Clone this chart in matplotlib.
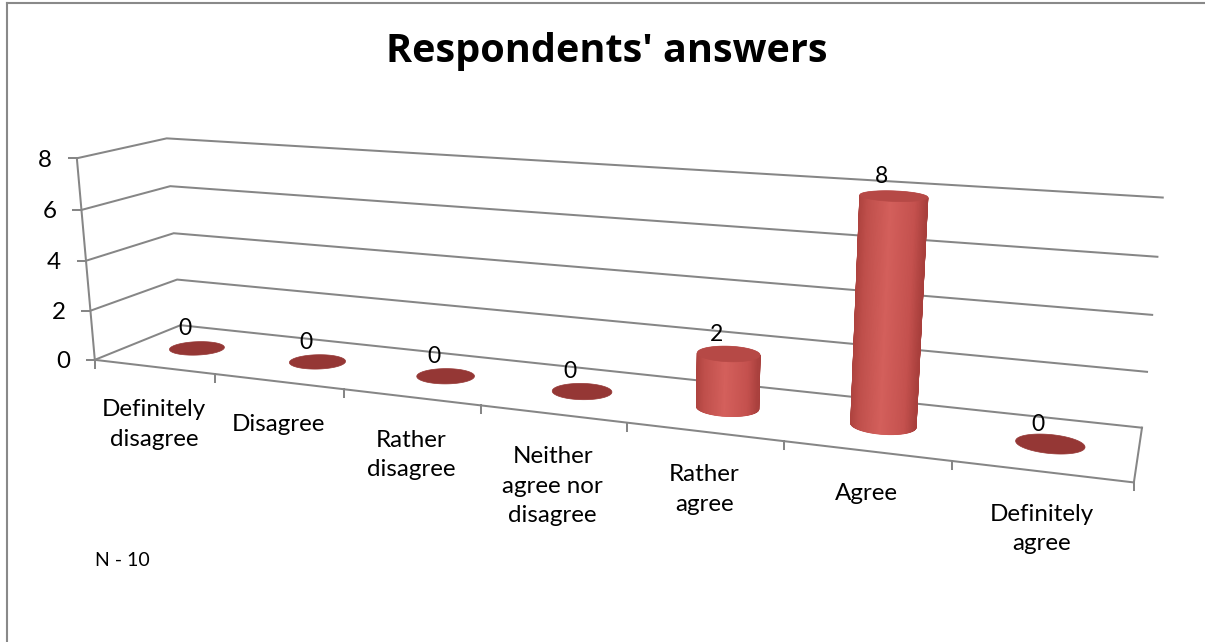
import numpy as np
import matplotlib
matplotlib.use("Agg")
import matplotlib.pyplot as plt
from matplotlib.patches import Polygon
from matplotlib.colors import LinearSegmentedColormap

# ---- data -------------------------------------------------------------
categories = ["Definitely\ndisagree", "Disagree", "Rather\ndisagree",
              "Neither\nagree nor\ndisagree", "Rather\nagree", "Agree",
              "Definitely\nagree"]
values = [0, 0, 0, 0, 2, 8, 0]
value_ticks = [0, 2, 4, 6, 8]
title = "Respondents' answers"
note = "N - 10"

plt.rcParams["font.family"] = ["Lato", "DejaVu Sans"]

W, H = 1205, 642
fig = plt.figure(figsize=(W / 100, H / 100), dpi=100)
ax = fig.add_axes([0, 0, 1, 1])
ax.set_xlim(0, W)
ax.set_ylim(H, 0)
ax.axis("off")

n = len(categories)
top = value_ticks[-1]
DEPTH = 1.0

# ---- perspective camera for the 3-D box --------------------------------
# The box outline on the canvas: world (category pos, value, depth) -> pixel
calib = []
for k, uv in enumerate([(95, 360), (215, 374), (344, 389), (480, 405),
                        (628, 422.5), (783, 441), (952, 460.5), (1135, 482)]):
    calib.append(((k, 0, 0), uv))
for val, uv in zip(value_ticks, [(95, 360), (90.5, 311), (86, 261), (81, 210), (77, 159)]):
    calib.append(((0, val, 0), uv))
for val, uv in zip(value_ticks, [(180.5, 325.5), (177, 280), (174, 233), (170, 186), (167, 137)]):
    calib.append(((0, val, DEPTH), uv))
for val, uv in zip(value_ticks, [(1142, 428), (1147, 372), (1152, 315), (1157, 257), (1163, 198)]):
    calib.append(((n, val, DEPTH), uv))


def fit_camera(pairs):
    Xw = np.array([p[0] for p in pairs], float)
    xi = np.array([p[1] for p in pairs], float)
    mw = Xw.mean(0)
    sw = np.sqrt(3) / np.mean(np.linalg.norm(Xw - mw, axis=1))
    mi = xi.mean(0)
    si = np.sqrt(2) / np.mean(np.linalg.norm(xi - mi, axis=1))
    T3 = np.diag([sw, sw, sw, 1.0])
    T3[:3, 3] = -sw * mw
    T2 = np.diag([si, si, 1.0])
    T2[:2, 2] = -si * mi
    Xh = (T3 @ np.c_[Xw, np.ones(len(Xw))].T).T
    xh = (T2 @ np.c_[xi, np.ones(len(xi))].T).T
    rows = []
    for Xv, (u, v, _) in zip(Xh, xh):
        rows.append(np.r_[Xv, np.zeros(4), -u * Xv])
        rows.append(np.r_[np.zeros(4), Xv, -v * Xv])
    _, _, Vt = np.linalg.svd(np.array(rows))
    Pn = Vt[-1].reshape(3, 4)
    return np.linalg.inv(T2) @ Pn @ T3


P = fit_camera(calib)
_, _, Vt = np.linalg.svd(P)
cam = Vt[-1][:3] / Vt[-1][3]


def proj(X, Y, Z):
    X, Y, Z = np.broadcast_arrays(np.asarray(X, float), np.asarray(Y, float),
                                  np.asarray(Z, float))
    h = P @ np.vstack([X.ravel(), Y.ravel(), Z.ravel(), np.ones(X.size)])
    return (h[0] / h[2]).reshape(X.shape), (h[1] / h[2]).reshape(X.shape)


def convex_hull(pts):
    pts = sorted(map(tuple, pts))

    def cross(o, a, b):
        return (a[0] - o[0]) * (b[1] - o[1]) - (a[1] - o[1]) * (b[0] - o[0])

    lower, upper = [], []
    for p in pts:
        while len(lower) >= 2 and cross(lower[-2], lower[-1], p) <= 0:
            lower.pop()
        lower.append(p)
    for p in reversed(pts):
        while len(upper) >= 2 and cross(upper[-2], upper[-1], p) <= 0:
            upper.pop()
        upper.append(p)
    return np.array(lower[:-1] + upper[:-1])


# ---- walls, floor, gridlines ------------------------------------------
grid_c = "#868686"
glw = 1.45
for val in value_ticks:
    xs, ys = proj([0, 0, n], [val] * 3, [0, DEPTH, DEPTH])
    ax.plot(xs, ys, color=grid_c, lw=glw, solid_joinstyle="miter", zorder=1)

xs, ys = proj([0, n, n], [0, 0, 0], [0, 0, DEPTH])
ax.plot(xs, ys, color=grid_c, lw=glw, solid_joinstyle="miter", zorder=1)
xs, ys = proj([0, 0], [0, top], [0, 0])
ax.plot(xs, ys, color=grid_c, lw=glw, zorder=1)

# value-axis ticks and labels
for val in value_ticks:
    u, v = proj(0, val, 0)
    ax.plot([u - 8, u], [v, v], color=grid_c, lw=glw, zorder=1)
    ax.text(u - 25, v + 8.5, str(val), ha="right", va="baseline",
            fontsize=17.4, color="black")

# category ticks and labels
for k in range(n + 1):
    u, v = proj(k, 0, 0)
    ax.plot([u, u], [v, v + 8], color=grid_c, lw=glw, zorder=1)
for i, lab in enumerate(categories):
    u, v = proj(i + 0.5, 0, 0)
    for j, line in enumerate(lab.split("\n")):
        ax.text(u, v + 49.5 + j * 29.3, line, ha="center", va="baseline",
                fontsize=17.4, color="black")

# ---- cylinders ----------------------------------------------------------
rx, rz, zc = 0.2, 0.175, DEPTH / 2
side_cmap = LinearSegmentedColormap.from_list(
    "cyl", [(0.0, "#AE433F"), (0.12, "#BF4F4B"), (0.45, "#D4605C"),
            (0.82, "#C4514E"), (1.0, "#A83F3C")])
side_mid = "#C0504D"
top_c = "#B64946"
disc_c = "#953735"

th = np.linspace(0, 2 * np.pi, 241)
for i, val in enumerate(values):
    xc = i + 0.5
    cx = xc + rx * np.cos(th)
    cz = zc + rz * np.sin(th)
    bu, bv = proj(cx, np.zeros_like(th), cz)
    if val == 0:
        ax.add_patch(Polygon(np.c_[bu, bv], closed=True, fc=disc_c, ec=disc_c,
                             lw=0.5, zorder=3))
        continue
    tu, tv = proj(cx, np.full_like(th, val), cz)
    ax.add_patch(Polygon(convex_hull(np.r_[np.c_[bu, bv], np.c_[tu, tv]]),
                         closed=True, fc=side_mid, ec="none", zorder=3))
    umin, umax = bu.min(), bu.max()
    for k in range(len(th) - 1):
        tm = 0.5 * (th[k] + th[k + 1])
        p = np.array([xc + rx * np.cos(tm), val / 2, zc + rz * np.sin(tm)])
        nrm = np.array([np.cos(tm) / rx, 0.0, np.sin(tm) / rz])
        if np.dot(cam - p, nrm) <= 0:
            continue
        quad = [(bu[k], bv[k]), (bu[k + 1], bv[k + 1]),
                (tu[k + 1], tv[k + 1]), (tu[k], tv[k])]
        s = np.clip(((bu[k] + bu[k + 1]) / 2 - umin) / (umax - umin), 0, 1)
        col = side_cmap(s)
        ax.add_patch(Polygon(quad, closed=True, fc=col, ec=col, lw=0.6, zorder=4))
    ax.add_patch(Polygon(np.c_[tu, tv], closed=True, fc=top_c, ec=top_c,
                         lw=0.5, zorder=5))

# value labels above each cylinder
for i, val in enumerate(values):
    u, v = proj(i + 0.5, val, zc)
    ax.text(u - 12, v - 13, str(val), ha="center", va="baseline",
            fontsize=16.5, color="black", zorder=6)

# ---- title, note, chart border -------------------------------------------
ax.text(607, 62, title, ha="center", va="baseline", fontsize=28.5,
        fontweight="bold", color="black", family=["Open Sans", "DejaVu Sans"])
ax.text(95, 566, note, ha="left", va="baseline", fontsize=14, color="black")
ax.plot([7, 7], [H, 3], color="#898989", lw=1.5, zorder=0,
        solid_capstyle="projecting")
ax.plot([7, W], [3, 3], color="#898989", lw=1.5, zorder=0,
        solid_capstyle="projecting")

fig.savefig("out.png", dpi=100)
